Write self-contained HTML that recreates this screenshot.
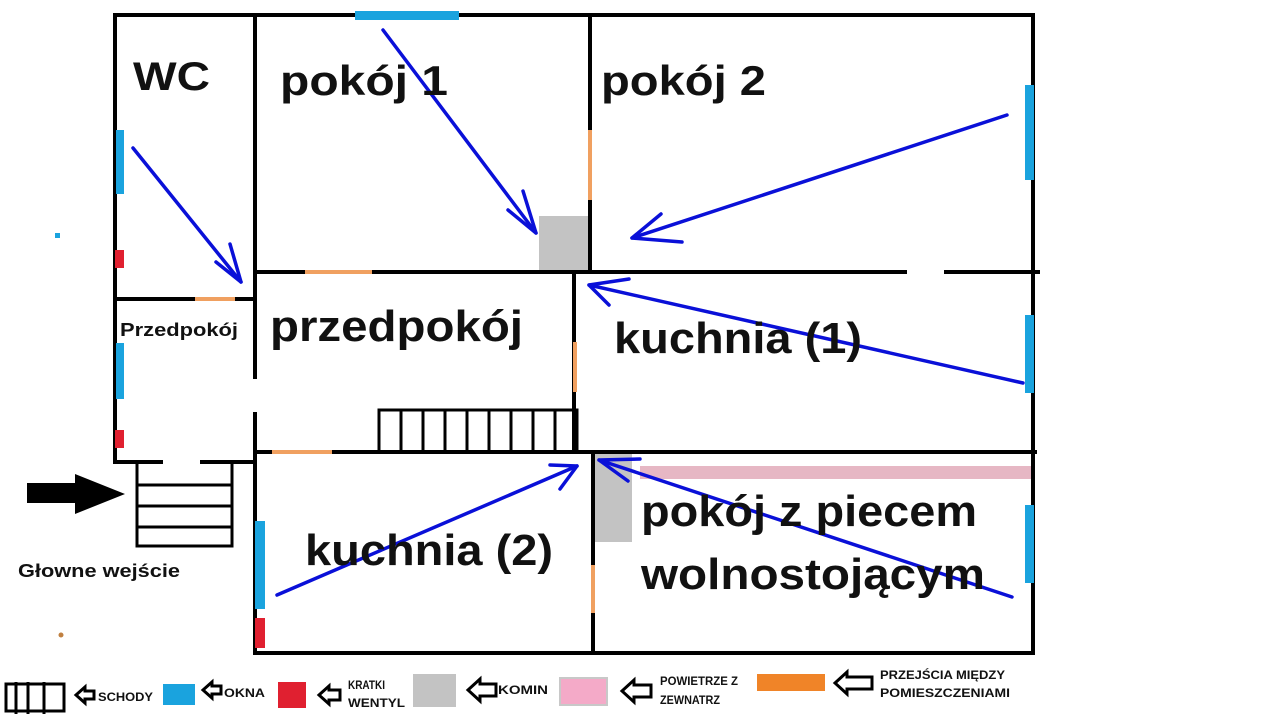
<!DOCTYPE html>
<html><head><meta charset="utf-8"><style>
html,body{margin:0;padding:0;background:#fff;}
svg{display:block;}
text{font-family:"Liberation Sans",sans-serif;font-weight:bold;fill:#111;}
</style></head><body>
<svg width="1280" height="719" viewBox="0 0 1280 719" xmlns="http://www.w3.org/2000/svg">
<rect width="1280" height="719" fill="#fff"/>
<!-- fills -->
<rect x="539" y="216" width="49" height="57" fill="#c3c3c3"/>
<rect x="592" y="454" width="40" height="88" fill="#c3c3c3"/>
<rect x="640" y="466" width="395" height="13" fill="#e6b7c4"/>
<!-- walls -->
<g stroke="#000" stroke-width="4" fill="none" stroke-linecap="square">
<line x1="115" y1="15" x2="1033" y2="15"/>
<line x1="115" y1="15" x2="115" y2="462"/>
<line x1="1033" y1="15" x2="1033" y2="653"/>
<line x1="255" y1="653" x2="1033" y2="653"/>
<line x1="255" y1="15" x2="255" y2="377"/>
<line x1="255" y1="414" x2="255" y2="653"/>
<line x1="115" y1="299" x2="255" y2="299"/>
<line x1="115" y1="462" x2="161" y2="462"/>
<line x1="202" y1="462" x2="255" y2="462"/>
<line x1="255" y1="272" x2="905" y2="272"/>
<line x1="946" y1="272" x2="1038" y2="272"/>
<line x1="590" y1="15" x2="590" y2="272"/>
<line x1="574" y1="272" x2="574" y2="452"/>
<line x1="255" y1="452" x2="1035" y2="452"/>
<line x1="593" y1="452" x2="593" y2="653"/>
</g>
<!-- stairs -->
<g stroke="#000" stroke-width="3" fill="none">
<rect x="379" y="410" width="198" height="42"/>
<line x1="401" y1="410" x2="401" y2="452"/><line x1="423" y1="410" x2="423" y2="452"/>
<line x1="445" y1="410" x2="445" y2="452"/><line x1="467" y1="410" x2="467" y2="452"/>
<line x1="489" y1="410" x2="489" y2="452"/><line x1="511" y1="410" x2="511" y2="452"/>
<line x1="533" y1="410" x2="533" y2="452"/><line x1="555" y1="410" x2="555" y2="452"/>
<polyline points="137,464 137,546 232,546 232,464"/>
<line x1="137" y1="485" x2="232" y2="485"/>
<line x1="137" y1="506" x2="232" y2="506"/>
<line x1="137" y1="527" x2="232" y2="527"/>
</g>
<!-- windows -->
<g fill="#1aa3de">
<rect x="355" y="11" width="104" height="9"/>
<rect x="1025" y="85" width="9" height="95"/>
<rect x="1025" y="315" width="9" height="78"/>
<rect x="1025" y="505" width="9" height="78"/>
<rect x="116" y="130" width="8" height="64"/>
<rect x="116" y="343" width="8" height="56"/>
<rect x="255" y="521" width="10" height="88"/>
<rect x="55" y="233" width="5" height="5"/>
</g>
<g fill="#e02030">
<rect x="115" y="250" width="9" height="18"/>
<rect x="115" y="430" width="9" height="18"/>
<rect x="255" y="618" width="10" height="30"/>
</g>
<g stroke="#f0a060" stroke-width="4">
<line x1="305" y1="272" x2="372" y2="272"/>
<line x1="195" y1="299" x2="235" y2="299"/>
<line x1="272" y1="452" x2="332" y2="452"/>
<line x1="590" y1="130" x2="590" y2="200"/>
<line x1="575" y1="342" x2="575" y2="392"/>
<line x1="593" y1="565" x2="593" y2="613"/>
</g>
<circle cx="61" cy="635" r="2.5" fill="#c08040"/>
<!-- blue arrows -->
<g stroke="#0a10d8" stroke-width="3.5" fill="none" stroke-linecap="round" stroke-linejoin="round">
<line x1="133" y1="148" x2="241" y2="282"/><polyline points="230,244 241,282 216,262"/>
<line x1="383" y1="30" x2="536" y2="233"/><polyline points="523,191 536,233 508,210"/>
<line x1="1007" y1="115" x2="632" y2="238"/><polyline points="661,214 632,238 682,242"/>
<line x1="1023" y1="383" x2="589" y2="285"/><polyline points="629,279 589,285 609,305"/>
<line x1="277" y1="595" x2="577" y2="466"/><polyline points="550,465 577,466 560,489"/>
<line x1="1012" y1="597" x2="599" y2="460"/><polyline points="640,459 599,460 628,481"/>
</g>
<!-- entrance arrow -->
<polygon points="27,483 75,483 75,474 125,494 75,514 75,503 27,503" fill="#000"/>
<!-- labels -->
<text x="133" y="90" font-size="40" textLength="77" lengthAdjust="spacingAndGlyphs">WC</text>
<text x="280" y="95" font-size="42" textLength="168" lengthAdjust="spacingAndGlyphs">pokój 1</text>
<text x="601" y="95" font-size="42" textLength="165" lengthAdjust="spacingAndGlyphs">pokój 2</text>
<text x="270" y="341" font-size="44" textLength="253" lengthAdjust="spacingAndGlyphs">przedpokój</text>
<text x="614" y="353" font-size="44" textLength="248" lengthAdjust="spacingAndGlyphs">kuchnia (1)</text>
<text x="305" y="565" font-size="44" textLength="248" lengthAdjust="spacingAndGlyphs">kuchnia (2)</text>
<text x="641" y="526" font-size="44" textLength="336" lengthAdjust="spacingAndGlyphs">pokój z piecem</text>
<text x="641" y="589" font-size="44" textLength="344" lengthAdjust="spacingAndGlyphs">wolnostojącym</text>
<text x="120" y="336" font-size="18" textLength="118" lengthAdjust="spacingAndGlyphs">Przedpokój</text>
<text x="18" y="577" font-size="18" textLength="162" lengthAdjust="spacingAndGlyphs">Głowne wejście</text>
<!-- legend -->
<g stroke="#000" stroke-width="3" fill="none">
<rect x="6" y="684" width="58" height="27"/>
<line x1="16" y1="682" x2="16" y2="714"/><line x1="28" y1="682" x2="28" y2="714"/><line x1="44" y1="682" x2="44" y2="714"/>
</g>
<rect x="163" y="684" width="32" height="21" fill="#1aa3de"/>
<rect x="278" y="682" width="28" height="26" fill="#e02030"/>
<rect x="413" y="674" width="43" height="33" fill="#c3c3c3"/>
<rect x="560" y="678" width="47" height="27" fill="#f4aac8" stroke="#c8c8c8" stroke-width="2"/>
<rect x="757" y="674" width="68" height="17" fill="#f08428"/>
<g fill="#fff" stroke="#000" stroke-width="3" stroke-linejoin="miter">
<polygon points="76,695 85,687 85,691 94,691 94,699 85,699 85,703"/>
<polygon points="203,690 212,682 212,686 221,686 221,694 212,694 212,698"/>
<polygon points="319,695 329,686 329,690 340,690 340,700 329,700 329,704"/>
<polygon points="468,690 480,679 480,684 496,684 496,696 480,696 480,701"/>
<polygon points="622,691 634,680 634,685 651,685 651,697 634,697 634,702"/>
<polygon points="835,683 847,672 847,677 872,677 872,689 847,689 847,694"/>
</g>
<g font-size="12">
<text x="98" y="701" textLength="55" lengthAdjust="spacingAndGlyphs">SCHODY</text>
<text x="224" y="697" textLength="41" lengthAdjust="spacingAndGlyphs">OKNA</text>
<text x="348" y="689" textLength="37" lengthAdjust="spacingAndGlyphs">KRATKI</text>
<text x="348" y="707" textLength="57" lengthAdjust="spacingAndGlyphs">WENTYL</text>
<text x="498" y="694" textLength="50" lengthAdjust="spacingAndGlyphs">KOMIN</text>
<text x="660" y="685" textLength="78" lengthAdjust="spacingAndGlyphs">POWIETRZE Z</text>
<text x="660" y="704" textLength="60" lengthAdjust="spacingAndGlyphs">ZEWNATRZ</text>
<text x="880" y="679" textLength="125" lengthAdjust="spacingAndGlyphs">PRZEJŚCIA MIĘDZY</text>
<text x="880" y="697" textLength="130" lengthAdjust="spacingAndGlyphs">POMIESZCZENIAMI</text>
</g>
</svg>
</body></html>
